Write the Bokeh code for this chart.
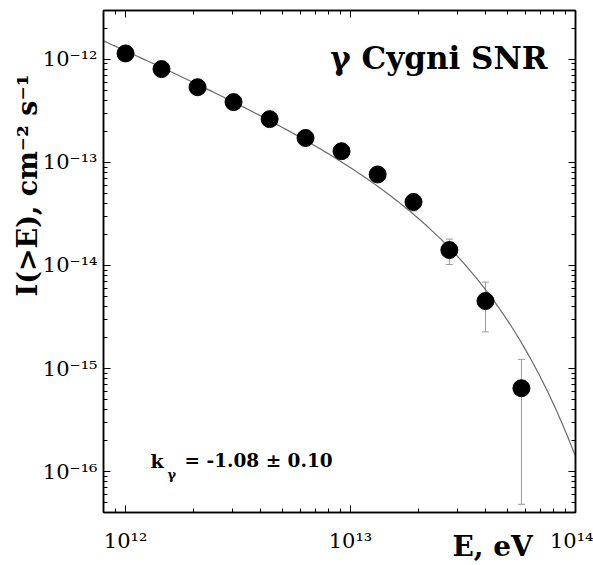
import numpy as np
from bokeh.plotting import figure
from bokeh.models import (ColumnDataSource, LogAxis, FixedTicker, Label, Title,
                          Whisker, TeeHead, Range1d)
from bokeh.embed import file_html
from bokeh.resources import INLINE

# ---- data ----
energy = [1.0e12, 1.445e12, 2.09e12, 3.02e12, 4.37e12, 6.31e12, 9.12e12,
          1.32e13, 1.905e13, 2.75e13, 3.98e13, 5.75e13]
flux = [1.135e-12, 8.01e-13, 5.34e-13, 3.83e-13, 2.62e-13, 1.72e-13, 1.28e-13,
        7.62e-14, 4.12e-14, 1.41e-14, 4.52e-15, 6.45e-16]
flux_hi = [1.2e-12, 8.5e-13, 5.7e-13, 4.1e-13, 2.8e-13, 1.85e-13, 1.38e-13,
           8.8e-14, 4.9e-14, 1.80e-14, 6.89e-15, 1.23e-15]
flux_lo = [1.07e-12, 7.5e-13, 5.0e-13, 3.6e-13, 2.45e-13, 1.6e-13, 1.18e-13,
           6.5e-14, 3.37e-14, 1.02e-14, 2.27e-15, 4.84e-17]

# fitted curve parameters (power law with exponential cutoff)
fit_norm = 1.26e-12     # I(>1 TeV)
fit_index = 0.947
fit_cutoff = 2.11e13    # eV

x_ticks = [1e12, 1e13, 1e14]
x_tick_labels = ["10¹²", "10¹³", "10¹⁴"]
y_ticks = [1e-12, 1e-13, 1e-14, 1e-15, 1e-16]
y_tick_labels = ["10⁻¹²", "10⁻¹³", "10⁻¹⁴", "10⁻¹⁵", "10⁻¹⁶"]

x_start, x_end = 7.98e11, 1.0e14
y_start, y_end = 4.03e-17, 2.96e-12

SERIF = "DejaVu Serif"

p = figure(width=593, height=565, x_axis_type="log", y_axis_type="log",
           x_range=Range1d(x_start, x_end), y_range=Range1d(y_start, y_end),
           output_backend="svg", toolbar_location=None,
           min_border_left=103, min_border_right=18, min_border_top=10,
           min_border_bottom=50)
p.grid.visible = False
p.outline_line_color = "black"
p.outline_line_width = 1.5
p.background_fill_color = "white"
p.border_fill_color = "white"

x_minor = [m * 10.0 ** e for e in range(11, 14) for m in range(2, 10)]
y_minor = [m * 10.0 ** e for e in range(-17, -11) for m in range(2, 10)]

p.add_layout(LogAxis(), "above")
p.add_layout(LogAxis(), "right")


def style(ax, ticks, minor, labels=None, standoff=0):
    ax.ticker = FixedTicker(ticks=ticks, minor_ticks=minor)
    ax.major_tick_in = 7
    ax.major_tick_out = 0
    ax.minor_tick_in = 4
    ax.minor_tick_out = 0
    ax.axis_line_color = "black"
    ax.axis_line_width = 1.5
    ax.major_tick_line_color = "black"
    ax.minor_tick_line_color = "black"
    if labels is None:
        ax.major_label_text_font_size = "1px"
        ax.major_label_text_alpha = 0
        ax.major_label_standoff = 0
    else:
        ax.major_label_overrides = dict(zip(ticks, labels))
        ax.major_label_text_font = SERIF
        ax.major_label_text_font_size = "21px"
        ax.major_label_text_color = "black"
        ax.major_label_standoff = standoff


style(p.below[0], x_ticks, x_minor, x_tick_labels, standoff=16)
style(p.above[0], x_ticks, x_minor)
style(p.left[0], y_ticks, y_minor, y_tick_labels, standoff=6)
style(p.right[0], y_ticks, y_minor)

# x-axis label, at the end of the axis, pulled up into the tick-label row
xax = p.below[0]
xax.axis_label_align = "end"
xax.axis_label = "E, eV" + "\u00a0" * 17
xax.axis_label_text_font = SERIF
xax.axis_label_text_font_style = "bold"
xax.axis_label_text_font_size = "28px"
xax.axis_label_text_color = "black"
xax.axis_label_standoff = -26

# y-axis label as a side title
ytitle = Title(text="I(>E), cm⁻² s⁻¹", align="right", offset=64, standoff=0,
               text_font=SERIF, text_font_style="bold", text_font_size="27px",
               text_color="black")
try:
    ytitle.standoff = -7
except Exception:
    pass
p.add_layout(ytitle, "left")

# fit curve
E_fit = np.logspace(np.log10(x_start), np.log10(x_end), 300)
I_fit = fit_norm * (E_fit / 1e12) ** (-fit_index) * np.exp(-E_fit / fit_cutoff)
p.line(E_fit, I_fit, line_color="#6a6a6a", line_width=1.2)

src = ColumnDataSource(dict(energy=energy, flux=flux, hi=flux_hi, lo=flux_lo))
w = Whisker(source=src, base="energy", upper="hi", lower="lo",
            line_color="#9a9a9a", line_width=1, level="underlay",
            upper_head=TeeHead(size=7, line_color="#9a9a9a", line_width=1),
            lower_head=TeeHead(size=7, line_color="#9a9a9a", line_width=1))
p.add_layout(w)
p.scatter("energy", "flux", source=src, size=17, color="black")


def lab(text, x, y, size, dx=0, dy=0, align="left"):
    p.add_layout(Label(x=x, y=y, text=text, x_offset=dx, y_offset=dy,
                       text_align=align, text_baseline="alphabetic",
                       text_font=SERIF, text_font_style="bold",
                       text_font_size=size, text_color="black"))


# title
lab("γ Cygni SNR", x_end, 1e-12, "31px", dx=-28, dy=1, align="right")

# k label
lab("k", 1e12, 1e-16, "19px", dx=25, dy=11)
lab("γ", 1e12, 1e-16, "13px", dx=42, dy=-3)
lab("= -1.08 ± 0.10", 1e12, 1e-16, "18.5px", dx=59, dy=11)

open("out.html", "w").write(file_html(p, INLINE))
